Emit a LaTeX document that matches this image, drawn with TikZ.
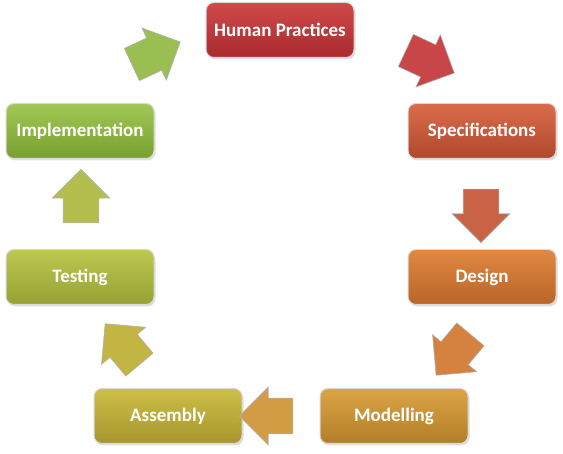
\documentclass[tikz,border=0pt]{standalone}
\usepackage{fontspec}
\setmainfont{Carlito}
\usetikzlibrary{shapes.arrows,shadows}

\definecolor{hpTop}{HTML}{D0494B}
\definecolor{hpBot}{HTML}{A92A2D}
\definecolor{spTop}{HTML}{DA6C4B}
\definecolor{spBot}{HTML}{B0482D}
\definecolor{deTop}{HTML}{E08943}
\definecolor{deBot}{HTML}{BA6427}
\definecolor{moTop}{HTML}{DCA446}
\definecolor{moBot}{HTML}{B27E28}
\definecolor{asTop}{HTML}{CDBF47}
\definecolor{asBot}{HTML}{A79630}
\definecolor{teTop}{HTML}{BDC852}
\definecolor{teBot}{HTML}{96A231}
\definecolor{imTop}{HTML}{A2C855}
\definecolor{imBot}{HTML}{77A030}

\begin{document}
\begin{tikzpicture}[x=1pt,y=1pt,
    stage/.style={rounded corners=8pt,draw=white!85!black,line width=1pt,
      minimum width=148pt,minimum height=55pt,text=white,
      font=\fontsize{19}{22}\selectfont\bfseries,
      drop shadow={opacity=0.25,shadow xshift=1.5pt,shadow yshift=-2pt}},
    turn/.style={single arrow,single arrow head extend=11pt,
      minimum height=47pt,minimum width=57pt,inner sep=17.5pt,
      draw=white!70!black,line width=0.6pt}]
    \useasboundingbox (0,0) rectangle (563,-454);

    \node[stage,top color=hpTop,bottom color=hpBot](hp)at(280,-30){Human Practices};
    \node[stage,top color=spTop,bottom color=spBot](spec)at(482,-131){Specifications};
    \node[stage,top color=deTop,bottom color=deBot](design)at(482,-277){Design};
    \node[stage,top color=moTop,bottom color=moBot](model)at(394,-416){Modelling};
    \node[stage,top color=asTop,bottom color=asBot](assem)at(168,-416){Assembly};
    \node[stage,top color=teTop,bottom color=teBot](test)at(80,-277){Testing};
    \node[stage,top color=imTop,bottom color=imBot](impl)at(80,-131){Implementation};

    \node[turn,fill=hpTop!96!black,rotate=-25](hpsp)at(422,-58){};
    \node[turn,fill=spTop!92!black,rotate=-90](spde)at(481,-207){};
    \node[turn,fill=deTop!95!black,rotate=-130](demo)at(459,-348){};
    \node[turn,fill=moTop!95!black,rotate=180](moas)at(275,-416){};
    \node[turn,fill=asTop!95!black,rotate=130](aste)at(128,-351){};
    \node[turn,fill=teTop!95!black,rotate=90](teim)at(81,-205){};
    \node[turn,fill=imTop!95!black,rotate=25](imhp)at(148,-57){};
\end{tikzpicture}
\end{document}
